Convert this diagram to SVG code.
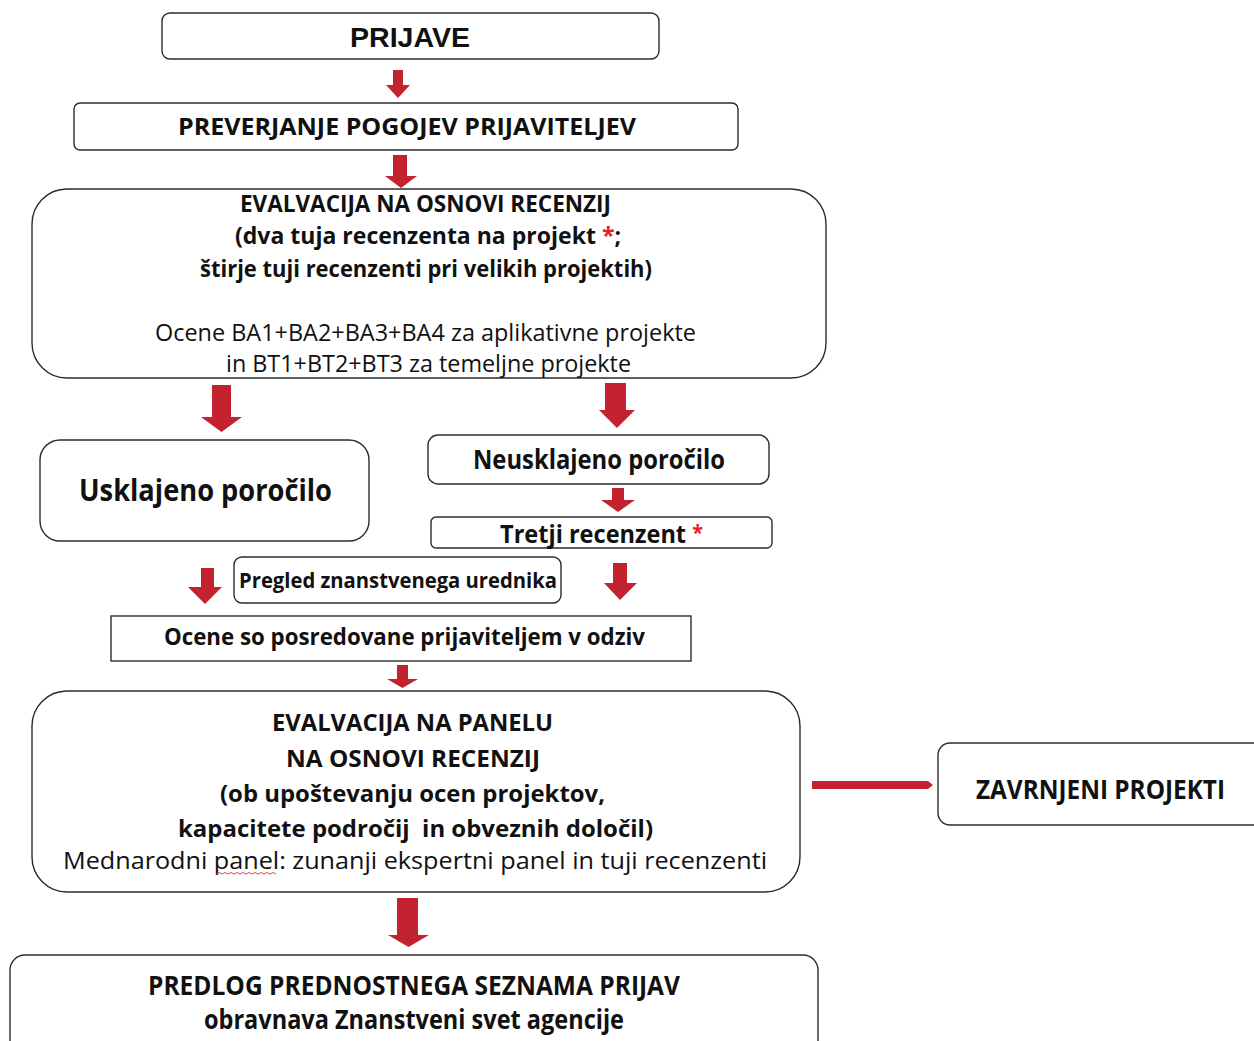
<svg xmlns="http://www.w3.org/2000/svg" width="1254" height="1041" viewBox="0 0 1254 1041">
<style>
.box{fill:#fff;stroke:#2b2b2b;stroke-width:1.4}
.b{font-family:"Open Sans","Liberation Sans",sans-serif;font-weight:700;fill:#111;text-anchor:middle}
.r{font-family:"Open Sans","Liberation Sans",sans-serif;font-weight:400;fill:#111;text-anchor:middle}
.arial{font-family:"Liberation Sans",Arial,sans-serif;font-weight:700;fill:#111;text-anchor:middle}
.ar{fill:#c3222f}
.red{fill:#e0202a}
</style>
<rect width="1254" height="1041" fill="#fff"/>
<g id="connectors">
<polygon class="ar" points="393,70 403,70 403,85 410,85 398,98 386,85 393,85"/>
<polygon class="ar" points="393,155 407,155 407,176 417,176 401,188 385,176 393,176"/>
<polygon class="ar" points="212,385 231,385 231,417 242,417 221.5,432 201,417 212,417"/>
<polygon class="ar" points="605,383 626,383 626,410 635,410 617,428 599,410 605,410"/>
<polygon class="ar" points="612,488 624,488 624,500 635,500 618,512 601,500 612,500"/>
<polygon class="ar" points="201,568 214,568 214,587 222,587 205,604 188,587 201,587"/>
<polygon class="ar" points="613,563 627,563 627,583 637,583 620,600 604,583 613,583"/>
<polygon class="ar" points="397,665 408,665 408,679 418,679 402.5,688 387,679 397,679"/>
<polygon class="ar" points="812,781 928,781 933,785 928,789 812,789"/>
<polygon class="ar" points="397,898 418,898 418,935 429,935 408.5,947 388,935 397,935"/>
</g>
<g id="n1">
<rect class="box" x="162" y="13" width="497" height="46" rx="8"/>
<text class="arial" x="410" y="47" font-size="28" textLength="120" lengthAdjust="spacingAndGlyphs">PRIJAVE</text>
</g>
<g id="n2">
<rect class="box" x="74" y="103" width="664" height="47" rx="6"/>
<text class="b" x="407" y="135" font-size="24" textLength="458" lengthAdjust="spacingAndGlyphs">PREVERJANJE POGOJEV PRIJAVITELJEV</text>
</g>
<g id="n3">
<rect class="box" x="32" y="189" width="794" height="189" rx="35"/>
<text class="b" x="425.5" y="212" font-size="23" textLength="371" lengthAdjust="spacingAndGlyphs">EVALVACIJA NA OSNOVI RECENZIJ</text>
<text class="b" x="428" y="244" font-size="23" textLength="386" lengthAdjust="spacingAndGlyphs">(dva tuja recenzenta na projekt <tspan class="red">*</tspan>;</text>
<text class="b" x="426" y="277" font-size="23" textLength="452" lengthAdjust="spacingAndGlyphs">štirje tuji recenzenti pri velikih projektih)</text>
<text class="r" x="425.5" y="341" font-size="23" textLength="541" lengthAdjust="spacingAndGlyphs">Ocene BA1+BA2+BA3+BA4 za aplikativne projekte</text>
<text class="r" x="428.5" y="372" font-size="23" textLength="405" lengthAdjust="spacingAndGlyphs">in BT1+BT2+BT3 za temeljne projekte</text>
</g>
<g id="n4">
<rect class="box" x="40" y="440" width="329" height="101" rx="20"/>
<text class="b" x="205.5" y="501" font-size="30" textLength="253" lengthAdjust="spacingAndGlyphs">Usklajeno poročilo</text>
</g>
<g id="n5">
<rect class="box" x="428" y="435" width="341" height="49" rx="10"/>
<text class="b" x="599" y="469" font-size="26" textLength="252" lengthAdjust="spacingAndGlyphs">Neusklajeno poročilo</text>
</g>
<g id="n6">
<rect class="box" x="431" y="517" width="341" height="31" rx="5"/>
<text class="b" x="601.5" y="543" font-size="25" textLength="203" lengthAdjust="spacingAndGlyphs">Tretji recenzent <tspan class="red" font-size="21" dy="-3">*</tspan></text>
</g>
<g id="n7">
<rect class="box" x="234" y="557" width="327" height="46" rx="8"/>
<text class="b" x="398" y="588" font-size="21" textLength="318" lengthAdjust="spacingAndGlyphs">Pregled znanstvenega urednika</text>
</g>
<g id="n8">
<rect class="box" x="111" y="616" width="580" height="45"/>
<text class="b" x="404.5" y="645" font-size="23" textLength="481" lengthAdjust="spacingAndGlyphs">Ocene so posredovane prijaviteljem v odziv</text>
</g>
<g id="n9">
<rect class="box" x="32" y="691" width="768" height="201" rx="35"/>
<text class="b" x="412.5" y="731" font-size="24" textLength="281" lengthAdjust="spacingAndGlyphs">EVALVACIJA NA PANELU</text>
<text class="b" x="413" y="767" font-size="24" textLength="254" lengthAdjust="spacingAndGlyphs">NA OSNOVI RECENZIJ</text>
<text class="b" x="412.5" y="802" font-size="24" textLength="385" lengthAdjust="spacingAndGlyphs">(ob upoštevanju ocen projektov,</text>
<text class="b" x="415.5" y="837" font-size="24" textLength="475" lengthAdjust="spacingAndGlyphs" style="white-space:pre">kapacitete področij  in obveznih določil)</text>
<text class="r" x="415" y="869" font-size="24" textLength="704" lengthAdjust="spacingAndGlyphs">Mednarodni panel: zunanji ekspertni panel in tuji recenzenti</text>
<path d="M216,874 l3,-1.5 l3,1.5 l3,-1.5 l3,1.5 l3,-1.5 l3,1.5 l3,-1.5 l3,1.5 l3,-1.5 l3,1.5 l3,-1.5 l3,1.5 l3,-1.5 l3,1.5 l3,-1.5 l3,1.5 l3,-1.5 l3,1.5 l3,-1.5 l3,1.5" fill="none" stroke="#e03030" stroke-width="0.9"/>
</g>
<g id="n10">
<rect class="box" x="938" y="743" width="330" height="82" rx="12"/>
<text class="b" x="1100.5" y="799" font-size="27" textLength="249" lengthAdjust="spacingAndGlyphs">ZAVRNJENI PROJEKTI</text>
</g>
<g id="n11">
<rect class="box" x="10" y="955" width="808" height="100" rx="15"/>
<text class="b" x="414" y="995" font-size="26" textLength="532" lengthAdjust="spacingAndGlyphs">PREDLOG PREDNOSTNEGA SEZNAMA PRIJAV</text>
<text class="b" x="414" y="1029" font-size="26" textLength="420" lengthAdjust="spacingAndGlyphs">obravnava Znanstveni svet agencije</text>
</g>
</svg>
